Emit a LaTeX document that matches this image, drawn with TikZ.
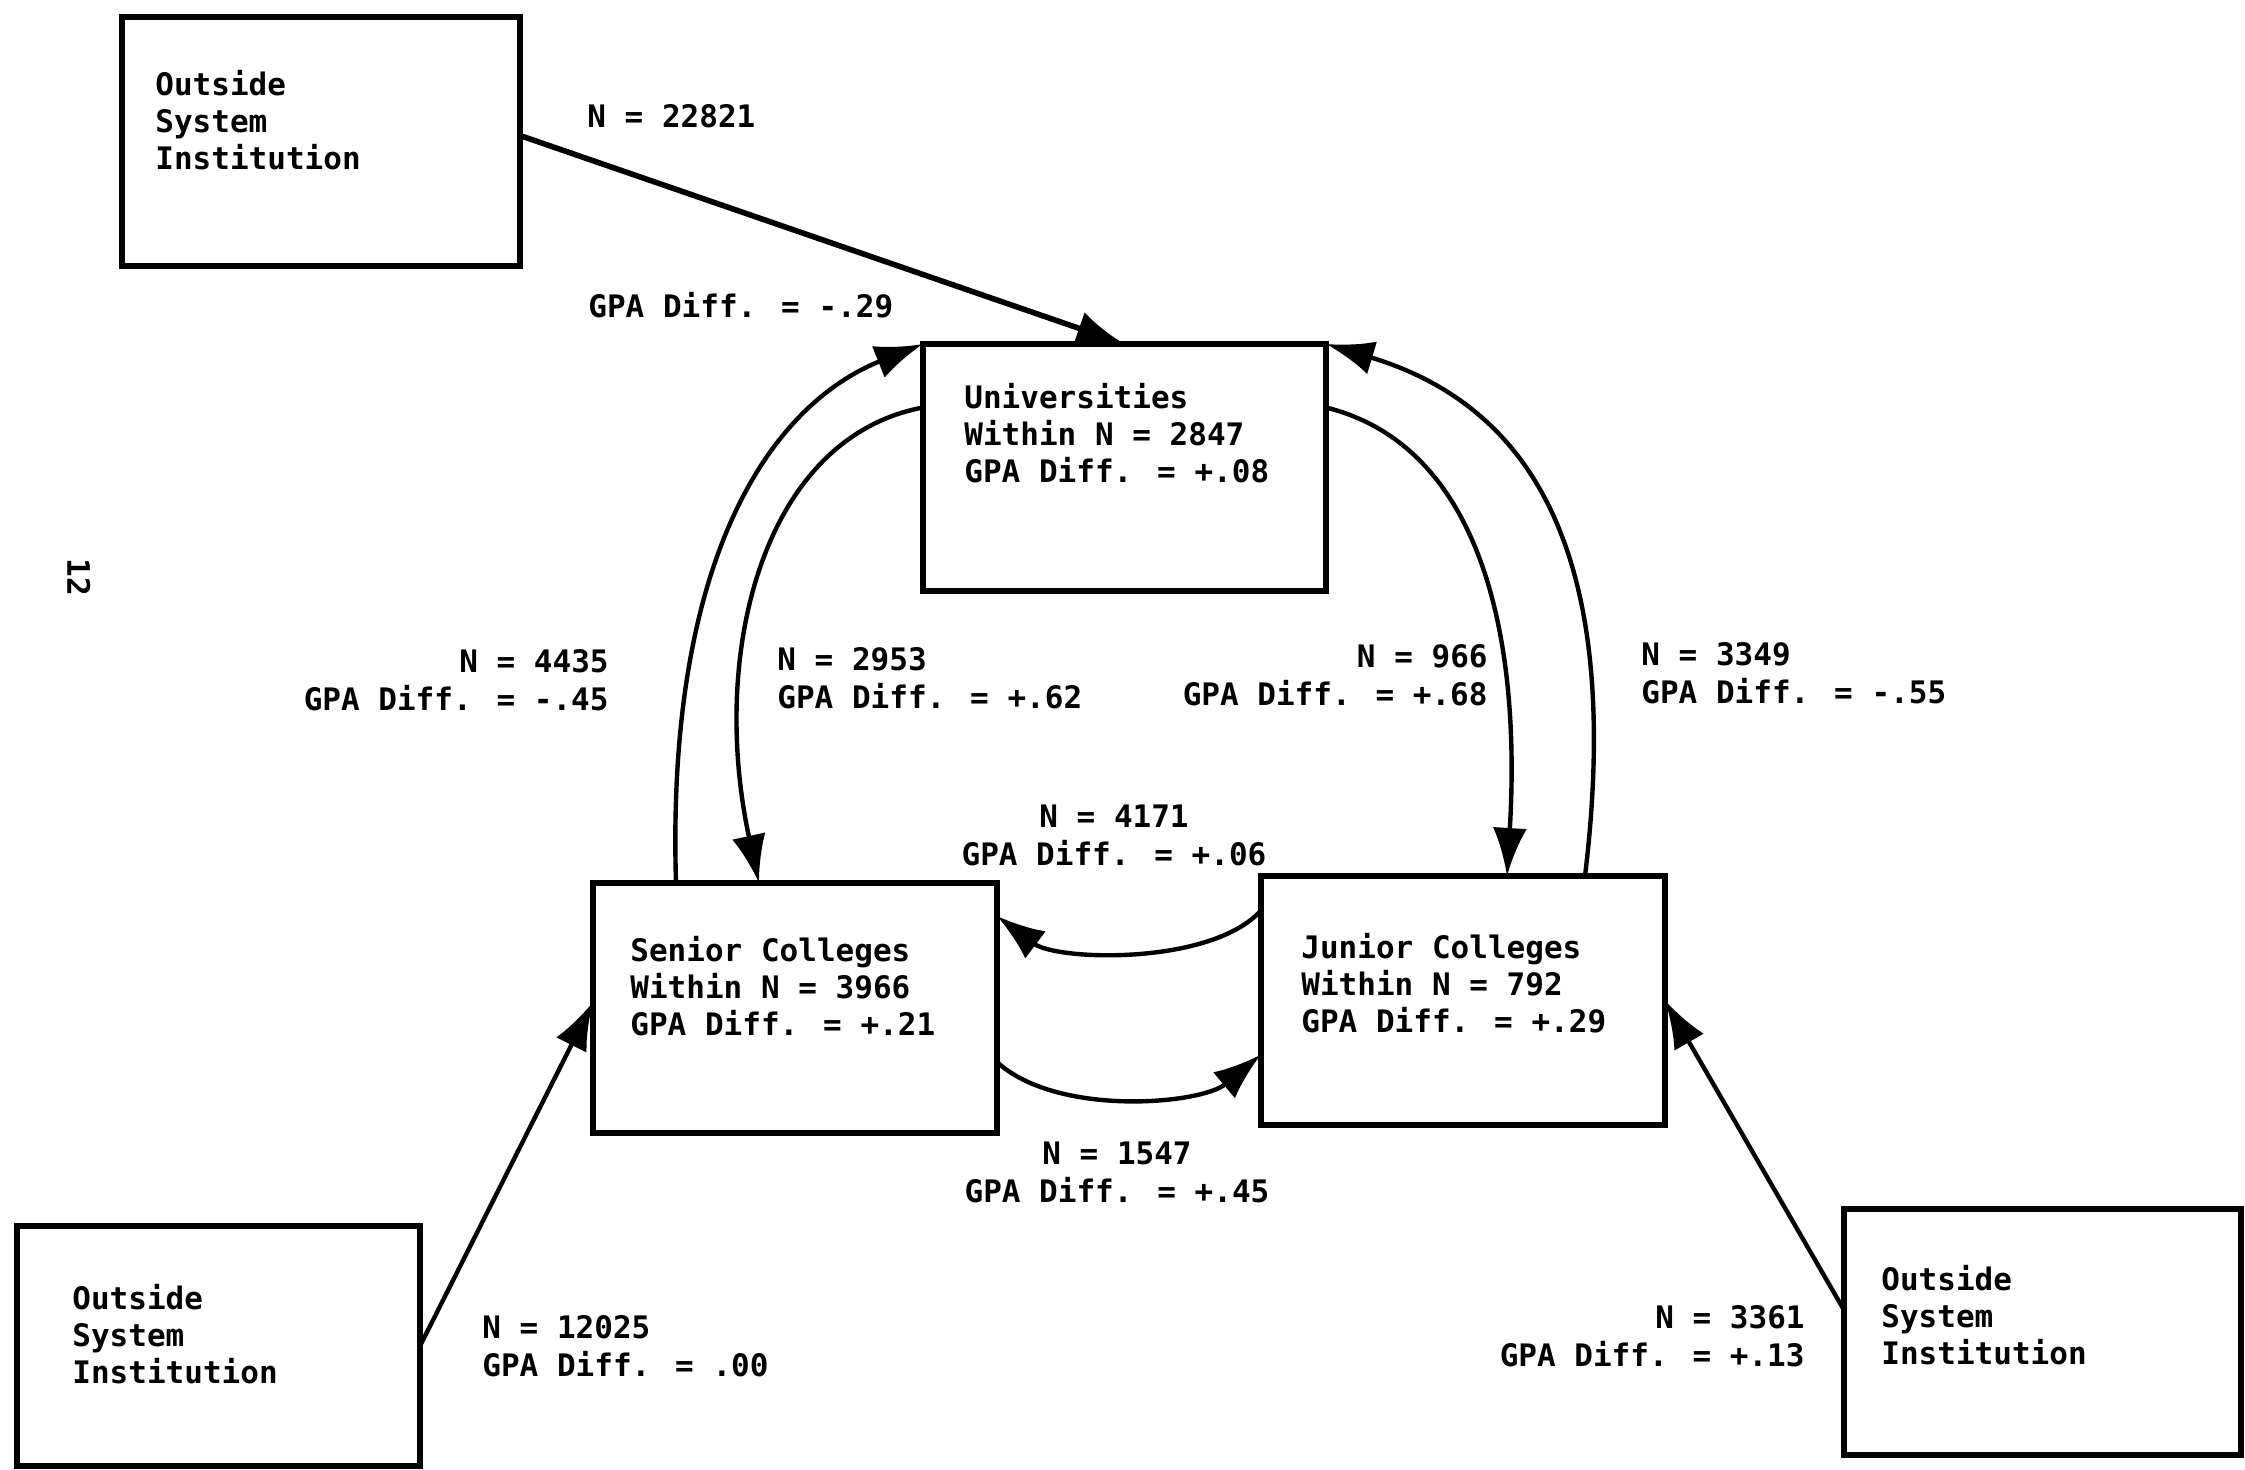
\documentclass[tikz,border=0pt]{standalone}
\usepackage{fontspec}
\newfontfamily\dvm{DejaVu Sans Mono}
\usetikzlibrary{arrows.meta,calc}
\begin{document}
\begin{tikzpicture}[x=0.5pt,y=-0.5pt,
  box/.style={draw,line width=3.2pt,inner sep=0pt,outer sep=0pt},
  txt/.style={font=\dvm\bfseries\fontsize{15.5}{18.5}\selectfont,inner sep=0pt,align=left},
  lbl/.style={font=\dvm\bfseries\fontsize{15.5}{19}\selectfont,inner sep=0pt},
  arr/.style={line width=2.2pt,-{Latex[length=24pt,width=17pt]}}]
\path[use as bounding box,fill=white] (0,0) rectangle (2245,1469);

% boxes
\node[box,minimum width=199pt,minimum height=124.5pt] (o1) at (321,141.5) {};
\node[box,minimum width=201.5pt,minimum height=123.5pt] (uni) at (1124.5,467.5) {};
\node[box,minimum width=202pt,minimum height=125pt] (sen) at (795,1008) {};
\node[box,minimum width=202pt,minimum height=124.5pt] (jun) at (1463,1000.5) {};
\node[box,minimum width=201.5pt,minimum height=120pt] (o2) at (218.5,1346) {};
\node[box,minimum width=198.5pt,minimum height=123pt] (o3) at (2042.5,1332) {};

% box texts
\node[txt,anchor=north west] (o1t) at (155,70) {Outside\\System\\Institution};
\node[txt,anchor=north west] (unit) at (964,383) {Universities\\Within N = 2847\\GPA Diff. = +.08};
\node[txt,anchor=north west] (sent) at (630,936) {Senior Colleges\\Within N = 3966\\GPA Diff. = +.21};
\node[txt,anchor=north west] (junt) at (1301,933) {Junior Colleges\\Within N = 792\\GPA Diff. = +.29};
\node[txt,anchor=north west] (o2t) at (72,1284) {Outside\\System\\Institution};
\node[txt,anchor=north west] (o3t) at (1881,1265) {Outside\\System\\Institution};

% connector labels
\node[lbl,anchor=north west] (l1) at (587,104) {N = 22821};
\node[lbl,anchor=north west] (l2) at (588,292) {GPA Diff. = -.29};
\node[lbl,align=right,anchor=north east] (l3) at (609,649) {N = 4435\\GPA Diff. = -.45};
\node[lbl,align=left,anchor=north west] (l4) at (777,647) {N = 2953\\GPA Diff. = +.62};
\node[lbl,align=right,anchor=north east] (l5) at (1488,644) {N = 966\\GPA Diff. = +.68};
\node[lbl,align=left,anchor=north west] (l6) at (1641,642) {N = 3349\\GPA Diff. = -.55};
\node[lbl,align=center,anchor=north] (l7) at (1114,804) {N = 4171\\GPA Diff. = +.06};
\node[lbl,align=center,anchor=north] (l8) at (1117,1141) {N = 1547\\GPA Diff. = +.45};
\node[lbl,align=left,anchor=north west] (l9) at (482,1315) {N = 12025\\GPA Diff. = .00};
\node[lbl,align=right,anchor=north east] (l10) at (1805,1305) {N = 3361\\GPA Diff. = +.13};
\node[lbl,rotate=-90] (pg) at (79,577) {12};

% connectors
\draw[arr,line width=2.8pt] ([yshift=3pt]o1.east) -- (uni.north);
\draw[arr] ([xshift=-59.5pt]sen.north) .. controls +(-10,-330) and +(-150,60) .. (uni.north west);
\draw[arr] ([yshift=30pt]uni.west) .. controls +(-160,30) and +(-50,-230) .. ([xshift=-18pt]sen.north);
\draw[arr] ([yshift=30pt]uni.east) .. controls +(150,37) and +(15,-250) .. ([xshift=22pt]jun.north);
\draw[arr] ([xshift=61pt]jun.north) .. controls +(40,-330) and +(200,60) .. (uni.north east);
\draw[arr] ([yshift=45pt]jun.west) .. controls +(-50,55) and +(60,45) .. ([yshift=46pt]sen.east);
\draw[arr] ([yshift=-27pt]sen.east) .. controls +(60,55) and +(-60,50) .. ([yshift=-27pt]jun.west);
\draw[arr] (o2.east) -- ([yshift=3pt]sen.west);
\draw[arr] ([yshift=11pt]o3.west) -- (jun.east);
\end{tikzpicture}
\end{document}
